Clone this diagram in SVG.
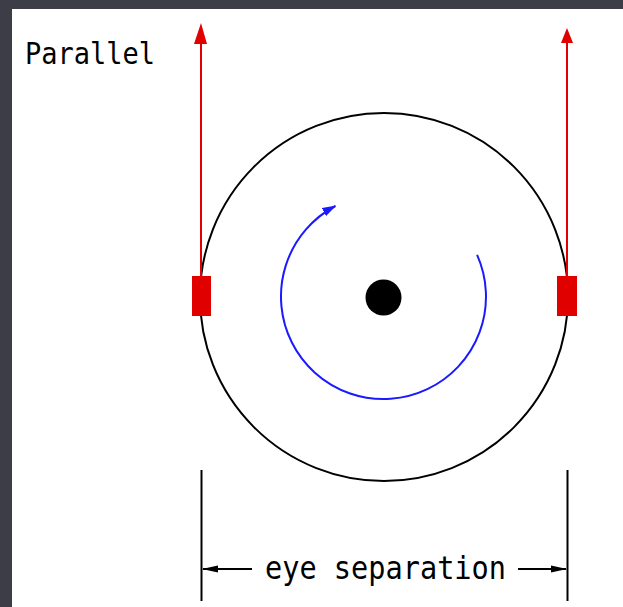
<svg xmlns="http://www.w3.org/2000/svg" width="623" height="607" viewBox="0 0 623 607">
<defs>
<style>
.lbl{font-family:"DejaVu Sans Mono","Liberation Mono",monospace;fill:#000}
.blk{stroke:#000;stroke-width:2;fill:none}
.red{stroke:#e00000;stroke-width:2;fill:none}
</style>
<marker id="blueHead" viewBox="0 0 14 10" refX="13" refY="5" markerWidth="14" markerHeight="10" markerUnits="userSpaceOnUse" orient="auto">
<path d="M0,0.5 L14,5 L0,9.5 Z" fill="#1a1aff"/>
</marker>
<marker id="dimHead" viewBox="0 0 16 8" refX="15" refY="4" markerWidth="16" markerHeight="8" markerUnits="userSpaceOnUse" orient="auto">
<path d="M0,0.5 L16,4 L0,7.5 Z" fill="#000"/>
</marker>
</defs>
<rect x="0" y="0" width="623" height="607" fill="#3d3d47"/>
<rect x="12" y="9" width="611" height="598" fill="#fff"/>
<g id="label-parallel"><text class="lbl" x="25" y="64" font-size="30" textLength="130" lengthAdjust="spacingAndGlyphs">Parallel</text></g>
<g id="wheel"><circle cx="384" cy="297" r="184" class="blk"/></g>
<g id="hub"><circle cx="383.5" cy="297.5" r="18" fill="#000"/></g>
<g id="rotation"><path d="M477.1,254.8 A102.5,102.5 0 1 1 335.4,206" fill="none" stroke="#1a1aff" stroke-width="2" marker-end="url(#blueHead)"/></g>
<g id="left-eye">
<line x1="201" y1="276" x2="201" y2="42" class="red"/>
<path d="M201,23 L194,44 L207,44 Z" fill="#e00000"/>
<rect x="192" y="276" width="19" height="40" fill="#e00000"/>
</g>
<g id="right-eye">
<line x1="567" y1="276" x2="567" y2="42" class="red"/>
<path d="M567,28 L561,43 L573,43 Z" fill="#e00000"/>
<rect x="557" y="276" width="20" height="40" fill="#e00000"/>
</g>
<g id="connectors">
<line x1="201.5" y1="470" x2="201.5" y2="601" class="blk"/>
<line x1="567.5" y1="470" x2="567.5" y2="601" class="blk"/>
<line x1="252" y1="569" x2="203" y2="569" class="blk" marker-end="url(#dimHead)"/>
<line x1="518" y1="569" x2="566" y2="569" class="blk" marker-end="url(#dimHead)"/>
</g>
<g id="label-eye"><text class="lbl" x="265" y="579" font-size="32" textLength="241" lengthAdjust="spacingAndGlyphs">eye separation</text></g>
</svg>
